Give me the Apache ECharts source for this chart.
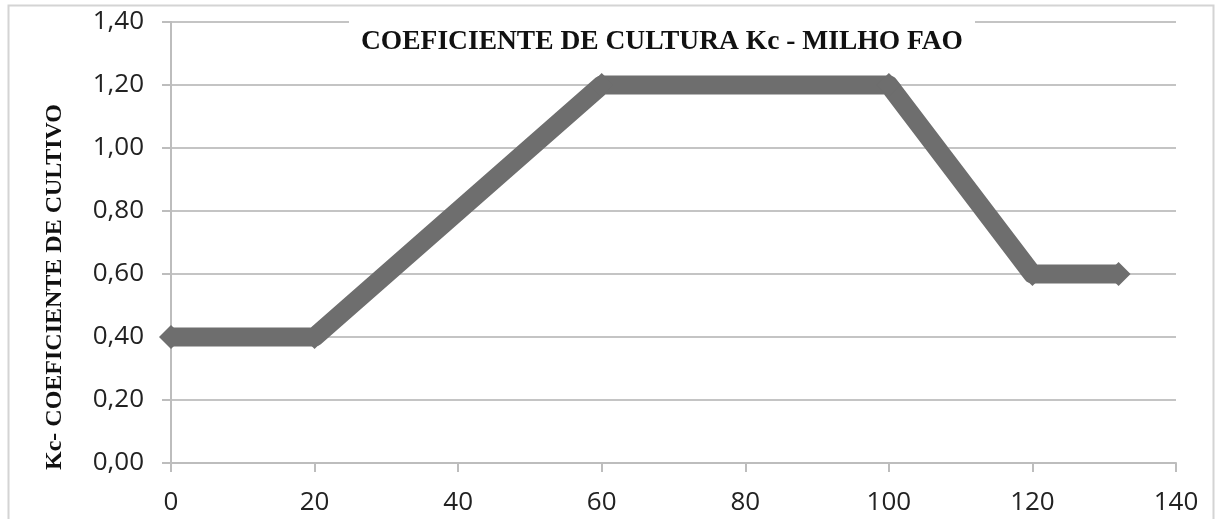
<!DOCTYPE html>
<html>
<head>
<meta charset="utf-8">
<script src="https://cdn.jsdelivr.net/npm/echarts@6/dist/echarts.min.js"></script>
<style>
  html, body { margin: 0; padding: 0; background: #fff; }
  #chart { width: 1217px; height: 519px; }
</style>
</head>
<body>
<div id="chart"></div>
<script>
// Kc do milho (FAO) - pontos de quebra da curva
var dias = [0, 20, 60, 100, 120, 132]
var kc = [0.40, 0.40, 1.20, 1.20, 0.60, 0.60]
var yTicks = [0, 0.2, 0.4, 0.6, 0.8, 1.0, 1.2, 1.4]
var xTicks = [0, 20, 40, 60, 80, 100, 120, 140]

var chart = echarts.init(document.getElementById('chart'))

var pontos = dias.map(function (d, i) {
  return [d, kc[i]]
})

var option = {
  animation: false,
  title: {
    text: 'COEFICIENTE DE CULTURA Kc - MILHO FAO',
    left: 349,
    top: 14,
    backgroundColor: '#fff',
    padding: [14, 12, 6, 12],
    textStyle: {
      fontFamily: 'Liberation Serif',
      fontWeight: 'bold',
      fontSize: 27.5,
      color: '#111'
    }
  },
  grid: {
    left: 171,
    right: 41,
    top: 22,
    bottom: 56
  },
  xAxis: {
    type: 'value',
    min: xTicks[0],
    max: xTicks[xTicks.length - 1],
    interval: 20,
    axisLine: { lineStyle: { color: '#bdbdbd', width: 2 } },
    axisTick: { show: true, length: 9, lineStyle: { color: '#bdbdbd', width: 2 } },
    axisLabel: {
      margin: 27,
      fontFamily: 'Open Sans',
      fontSize: 26,
      color: '#222'
    },
    splitLine: { show: false }
  },
  yAxis: {
    type: 'value',
    min: yTicks[0],
    max: yTicks[yTicks.length - 1],
    interval: 0.2,
    axisLine: { show: true, lineStyle: { color: '#bdbdbd', width: 2 } },
    axisTick: { show: true, length: 9, lineStyle: { color: '#bdbdbd', width: 2 } },
    axisLabel: {
      margin: 27,
      fontFamily: 'Open Sans',
      fontSize: 26,
      color: '#222',
      formatter: function (v) {
        return v.toFixed(2).replace('.', ',')
      }
    },
    splitLine: { show: true, lineStyle: { color: '#c4c4c4', width: 2 } }
  },
  graphic: [
    {
      type: 'rect',
      shape: { x: 8.5, y: 5.5, width: 1205, height: 530 },
      style: { fill: 'none', stroke: '#d4d4d4', lineWidth: 2 },
      silent: true,
      z: -1
    },
    {
      // nome do eixo Y (deslocado para baixo como no original)
      type: 'text',
      x: 55,
      y: 287,
      rotation: Math.PI / 2,
      style: {
        text: 'Kc- COEFICIENTE DE CULTIVO',
        fontFamily: 'Liberation Serif',
        fontWeight: 'bold',
        fontSize: 24,
        fill: '#111',
        align: 'center',
        verticalAlign: 'middle'
      },
      silent: true
    }
  ],
  series: [
    {
      type: 'line',
      data: pontos,
      z: 3,
      symbol: 'diamond',
      symbolSize: [24, 24],
      lineStyle: { color: '#6e6e6e', width: 19, join: 'round' },
      itemStyle: { color: '#6e6e6e' }
    }
  ]
}

chart.setOption(option)
window.onresize = function () {
  chart.resize()
}
</script>
</body>
</html>
